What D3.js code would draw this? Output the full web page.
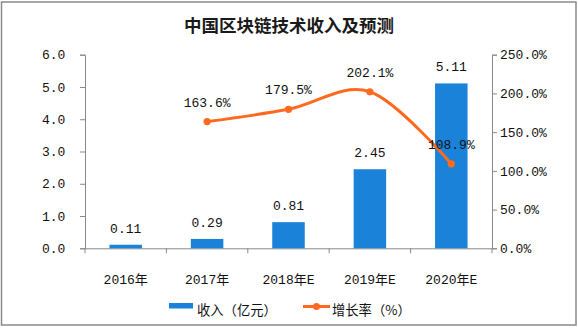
<!DOCTYPE html>
<html><head><meta charset="utf-8">
<script src="https://cdn.jsdelivr.net/npm/d3@7"></script>
<style>
body{margin:0;background:#fff;}
svg{display:block;}
</style></head>
<body>
<svg id="c" width="578" height="328"></svg>
<script>
const categories = ["2016年","2017年","2018年E","2019年E","2020年E"];
const revenue = [0.11, 0.29, 0.81, 2.45, 5.11];
const growth = [null, 163.6, 179.5, 202.1, 108.9];
const leftTicks = [0,1,2,3,4,5,6];
const rightTicks = [0,50,100,150,200,250];
const title = "中国区块链技术收入及预测";
const legendLabels = ["收入（亿元）","增长率（%）"];

const svg = d3.select("#c");
const numFont = "'Liberation Mono','DejaVu Sans Mono',monospace";
const cjkFont = "'Noto Sans CJK SC','Noto Sans',sans-serif";
const axisColor = "#898989";
const blue = "#1B82D9";
const orange = "#FF6A1F";

// frame
svg.append("rect").attr("x",1.5).attr("y",2).attr("width",574.5).attr("height",323)
  .attr("fill","#fff").attr("stroke","#8a8a8a").attr("stroke-width",1.5);

const L=85, R=492, T=54.7, B=248.3;
const x = d3.scaleBand().domain(categories).range([L,R]).paddingInner(0).paddingOuter(0);
const yL = d3.scaleLinear().domain([0,6]).range([B,T]);
const yR = d3.scaleLinear().domain([0,250]).range([B,T]);

// title
svg.append("text").attr("x",289).attr("y",32).attr("text-anchor","middle")
  .attr("font-family",cjkFont).attr("font-weight","bold").attr("font-size",17.5)
  .attr("fill","#1a1a1a").text(title);

// left axis
const gL = svg.append("g").attr("transform",`translate(${L},0)`)
  .call(d3.axisLeft(yL).tickValues(leftTicks).tickFormat(d3.format(".1f")).tickSizeOuter(0).tickSize(5).tickPadding(12));
// right axis
const gR = svg.append("g").attr("transform",`translate(${R},0)`)
  .call(d3.axisRight(yR).tickValues(rightTicks).tickFormat(d=>d.toFixed(1)+"%").tickSizeOuter(0).tickSize(5).tickPadding(3));
// bottom axis
const gB = svg.append("g").attr("transform",`translate(0,${B})`)
  .call(d3.axisBottom(x).tickSize(0).tickPadding(30).tickSizeOuter(0));
// band boundary ticks
gB.selectAll("line.bt").data(categories.concat(["_end"])).enter().append("line")
  .attr("class","bt")
  .attr("x1",(d,i)=> i<categories.length ? x(d) : R)
  .attr("x2",(d,i)=> i<categories.length ? x(d) : R)
  .attr("y1",0).attr("y2",5).attr("stroke",axisColor);

[gL,gR,gB].forEach(g=>{
  g.selectAll(".domain").attr("stroke",axisColor).attr("stroke-width",1);
  g.selectAll(".tick line").attr("stroke",axisColor);
  g.selectAll("text").attr("fill","#111").attr("font-size",13);
});
gL.selectAll("text").attr("font-family",numFont).attr("text-anchor","start").attr("x",-43);
gR.selectAll("text").attr("font-family",numFont);
gB.selectAll(".tick text").attr("font-family",numFont).attr("dy","0");
gB.selectAll(".tick text").each(function(d){
  const t=d3.select(this); t.text(null);
  const m = d.match(/^(\d+)(年)(E?)$/);
  t.append("tspan").attr("font-family",numFont).text(m[1]);
  t.append("tspan").attr("font-family",cjkFont).text(m[2]);
  if(m[3]) t.append("tspan").attr("font-family",numFont).text(m[3]);
});
gB.selectAll(".tick text").attr("y",36);

// bars
const bw = 32.5;
svg.append("g").selectAll("rect").data(revenue).enter().append("rect")
  .attr("x",(d,i)=>x(categories[i])+x.bandwidth()/2-bw/2)
  .attr("y",d=>yL(d)).attr("width",bw).attr("height",d=>B-yL(d)).attr("fill",blue);
// bar labels
svg.append("g").selectAll("text").data(revenue).enter().append("text")
  .attr("x",(d,i)=>x(categories[i])+x.bandwidth()/2)
  .attr("y",d=>yL(d)-12).attr("text-anchor","middle")
  .attr("font-family",numFont).attr("font-size",13).attr("fill","#111")
  .text(d=>d.toFixed(2));

// line
const pts = growth.map((g,i)=>({g,i})).filter(d=>d.g!=null);
const line = d3.line().x(d=>x(categories[d.i])+x.bandwidth()/2).y(d=>yR(d.g))
  .curve(d3.curveCardinal.tension(0));
svg.append("path").datum(pts).attr("d",line).attr("fill","none")
  .attr("stroke",orange).attr("stroke-width",3).attr("stroke-linecap","round");
svg.append("g").selectAll("circle").data(pts).enter().append("circle")
  .attr("cx",d=>x(categories[d.i])+x.bandwidth()/2).attr("cy",d=>yR(d.g)).attr("r",3.6).attr("fill",orange);
svg.append("g").selectAll("text").data(pts).enter().append("text")
  .attr("x",d=>x(categories[d.i])+x.bandwidth()/2)
  .attr("y",d=>yR(d.g)-15).attr("text-anchor","middle")
  .attr("font-family",numFont).attr("font-size",13).attr("fill","#111")
  .text(d=>d.g.toFixed(1)+"%");

// legend
const lg = svg.append("g");
lg.append("rect").attr("x",169).attr("y",303).attr("width",24).attr("height",5.5).attr("fill",blue);
lg.append("text").attr("x",197).attr("y",315).attr("font-family",cjkFont).attr("font-size",13.3).attr("fill","#111").text(legendLabels[0]);
lg.append("line").attr("x1",303).attr("x2",330).attr("y1",306.5).attr("y2",306.5).attr("stroke",orange).attr("stroke-width",3);
lg.append("circle").attr("cx",316.5).attr("cy",306.5).attr("r",3.5).attr("fill",orange);
lg.append("text").attr("x",332).attr("y",315).attr("font-family",cjkFont).attr("font-size",13.3).attr("fill","#111").text(legendLabels[1]);
</script>
</body></html>
